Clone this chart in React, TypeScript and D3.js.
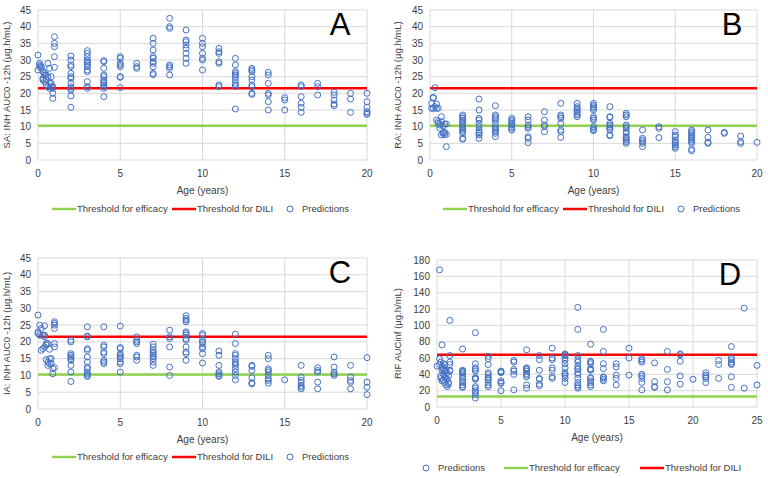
import React from 'react';
import * as d3 from 'd3';

// Age (years) -> predicted exposures, one array per panel
const saGroups: [number, number[]][] = [
  [0.0, [31.5, 27]], [0.1, [29, 28.5, 28]], [0.2, [28, 27.5]], [0.3, [24.5, 24, 26.5]],
  [0.4, [26, 25.5, 23.5]], [0.5, [25.5, 22.5, 24]], [0.6, [25, 22, 29]], [0.7, [21.5, 23, 27.5]],
  [0.8, [25, 23, 22]], [0.9, [22, 20, 18.5, 21.5]], [1, [37, 35, 34, 31, 27.8]],
  [2, [31.2, 30, 28.5, 28, 26, 25, 24.5, 23, 22, 21.5, 21, 19.2, 15.8]],
  [3, [32.8, 32, 31, 30, 29.5, 29, 28.5, 28, 27, 26.5, 23.5, 22, 21.5]],
  [4, [29.8, 29.5, 27.5, 25.5, 25, 24, 23.5, 23, 22.5, 22, 21.5, 19]],
  [5, [31, 30.5, 29, 28.5, 28, 25, 24.8, 21.7]],
  [6, [29, 28, 27.5]],
  [7, [36.5, 35, 33, 31, 30.5, 29.5, 29, 28, 26, 25.6]],
  [8, [42.5, 40, 39.5, 28.5, 28, 27.5, 25.5]],
  [9, [39, 36, 35.5, 34.5, 33.5, 32, 30.5, 29]],
  [10, [36.5, 35, 34, 32, 30.5, 30, 27]],
  [11, [33.5, 32.5, 32, 29.5, 29, 22.5, 22]],
  [12, [30.5, 28.5, 26.5, 26, 25.5, 25, 24, 23, 22.5, 22, 15.3]],
  [13, [27.5, 27, 26.5, 25, 24, 22.5, 22, 20, 19.7]],
  [14, [26.3, 25.5, 23, 20, 19.5, 17.5, 15]],
  [15, [18.7, 18, 15]],
  [16, [22.5, 22, 19, 17, 15.8, 14.3]],
  [17, [23, 22, 19.5]],
  [18, [20.3, 19.5, 18, 16.8, 16.3]],
  [19, [20, 18.3, 14.3]],
  [20, [20, 17.5, 15.8, 14.5, 14, 13.7]],
];

const raGroups: [number, number[]][] = [
  [0.1, [17, 15.5]], [0.2, [18.8, 18.6, 15.5]], [0.3, [21.7, 16]], [0.4, [15.5, 16.8, 12]],
  [0.5, [15.5, 11.5, 11]], [0.6, [10.5, 9.5]], [0.7, [13, 11.5, 7.5]], [0.8, [8.2, 10.2, 8]],
  [0.9, [10.8, 8.3, 7.6]], [1, [10.8, 7.7, 4]],
  [2, [13.5, 13, 12.5, 12, 11.5, 11, 10.5, 10, 9.5, 9, 8.5, 8, 6.5, 6.2]],
  [3, [18.3, 15, 12.5, 12, 11, 10, 9, 8.5, 8, 7.5, 6.5]],
  [4, [16.3, 13.5, 13, 12.5, 12, 11, 10, 9.5, 9, 8.5, 8, 7]],
  [5, [12.5, 12, 11.5, 11, 10.5, 10, 9.5, 9]],
  [6, [13, 12, 10.5, 10, 9.5, 7, 6.5, 5.2]],
  [7, [14.5, 12, 10.5, 10, 8.5]],
  [8, [17, 13.5, 13, 12.5, 11, 9, 8.5, 6.8]],
  [9, [17, 16, 15.5, 15, 14.5, 14, 13.5, 13]],
  [10, [17, 16.5, 16, 15.5, 15, 13, 12.5, 12, 10, 9.5, 9, 8.8]],
  [11, [16, 13, 12.8, 11, 10.5, 10, 9.5, 9, 7.5, 7.3]],
  [12, [14, 13.5, 13, 10.5, 10, 9.5, 8.5, 8, 7, 6.5, 6, 5.5, 5]],
  [13, [9, 6.5, 6, 5.5, 5, 4]],
  [14, [10, 9.5, 6.7]],
  [15, [8.5, 7.5, 7, 6, 5.5, 5, 4.5, 4, 3.5]],
  [16, [9, 8.5, 8, 7.5, 7, 6.5, 6, 5.5, 5, 3.2, 2.8]],
  [17, [9, 6.8, 5.3, 5]],
  [18, [8.3, 8]],
  [19, [7.2, 5.5, 5]],
  [20, [5.3]],
];

const iaGroups: [number, number[]][] = [
  [0.0, [28, 23, 22.5]], [0.1, [25, 22]], [0.2, [24, 17.5]], [0.3, [22, 18]],
  [0.4, [24.8, 22, 21.5, 18.5]], [0.5, [19.5, 14.7, 19]], [0.6, [14, 13, 19.5]],
  [0.7, [17.8, 15, 13.5]], [0.8, [15, 13.5]], [0.9, [10.5, 12]],
  [1, [26, 25.5, 25, 24, 19.5, 18.5, 12.3]],
  [2, [20.5, 20, 16.5, 16, 15.5, 15, 14.5, 13, 11, 8.2]],
  [3, [24.5, 21.7, 21.5, 18, 17.5, 15.5, 14, 12.5, 12, 11, 10.5, 10, 9.7]],
  [4, [24.5, 19, 18.5, 17, 16.5, 14.5, 14, 13.5]],
  [5, [24.7, 18.3, 18, 16.5, 16, 15.5, 15, 14, 13.5, 11]],
  [6, [21.5, 20.5, 20, 19.5, 16, 15.5, 14.5]],
  [7, [19.3, 18.5, 17.5, 17, 16.5, 16, 15.5, 15, 14, 13]],
  [8, [23.5, 21.5, 21, 18.5, 12.5, 10]],
  [9, [27.8, 27, 26.5, 26, 23, 22.5, 22, 21, 20.5, 18.5, 17, 16.5, 14.5]],
  [10, [22.5, 22, 20.5, 20, 19.5, 18.5, 18, 16.5, 13.7]],
  [11, [17.3, 16, 13, 11, 10.5, 10, 9.7]],
  [12, [22.3, 19.5, 16.5, 16, 15, 14, 13.5, 13, 12, 11, 10, 8.7]],
  [13, [13, 12.7, 11.5, 9.3, 7.8, 7.5]],
  [14, [16, 15, 12, 11.5, 11, 10, 9, 8.5, 7.7]],
  [15, [8.7]],
  [16, [13, 9.5, 8.5, 7.8, 7, 6.5, 6]],
  [17, [12.3, 11.5, 11, 8, 6]],
  [18, [15.5, 12.5, 11, 10.5, 10]],
  [19, [13, 9.5, 8.5, 8, 6]],
  [20, [15.3, 8, 6.5, 4.3]],
];

const rifGroups: [number, number[]][] = [
  [0.0, [50]], [0.2, [168, 59, 52]], [0.3, [38, 35, 55]], [0.4, [76, 50, 48, 45, 32]],
  [0.5, [53, 46, 40, 33]], [0.6, [52, 44, 37, 30]], [0.7, [45, 35, 27]], [0.8, [42, 34, 25]],
  [0.9, [38, 30, 28]], [1, [106, 63, 55, 52, 45, 44]],
  [2, [71, 45, 44, 43, 42, 40, 37, 35, 32, 30, 27, 25, 24]],
  [3, [91, 53, 48, 46, 44, 36, 35, 34, 25, 23, 20, 18, 15, 11]],
  [4, [62, 59, 52, 42, 40, 37, 35, 33, 30, 27, 25]],
  [5, [44, 43, 42, 32, 30, 29, 20]],
  [6, [57, 55, 46, 44, 40, 21]],
  [7, [70, 48, 47, 46, 44, 41, 39, 37, 27, 23]],
  [8, [63, 58, 45, 35, 34, 28, 26]],
  [9, [72, 60, 58, 48, 45, 37, 35]],
  [10, [65, 64, 63, 60, 57, 53, 48, 42, 40, 38, 35, 30]],
  [11, [122, 95, 63, 58, 55, 50, 47, 46, 42, 40, 35, 30, 27, 25, 23]],
  [12, [77, 56, 55, 53, 47, 46, 45, 36, 35, 32, 30, 27, 25]],
  [13, [95, 68, 53, 47, 37, 36, 34, 32]],
  [14, [53, 49, 39, 35, 27]],
  [15, [72, 60, 39]],
  [16, [59, 57, 55, 40, 38, 35, 30, 21]],
  [17, [54, 31, 25, 24]],
  [18, [68, 46, 31, 21]],
  [19, [65, 64, 56, 38, 28]],
  [20, [34]],
  [21, [42, 39, 37, 35, 30]],
  [22, [57, 52, 35]],
  [23, [74, 60, 58, 55, 53, 52, 37, 24]],
  [24, [121, 23]],
  [25, [51, 27]],
];

const inhThresholds = [10.3, 21.5]; // efficacy, DILI
const rifThresholds = [13, 64];

const inhAgeTicks = [0, 5, 10, 15, 20];
const rifAgeTicks = [0, 5, 10, 15, 20, 25];
const inhYTicks = [0, 5, 10, 15, 20, 25, 30, 35, 40, 45];
const rifYTicks = [0, 20, 40, 60, 80, 100, 120, 140, 160, 180];

const FONT = "'Liberation Sans', Arial, sans-serif";
const BLUE = '#4472C4';
const GREEN = '#92D050';
const RED = '#FF0000';
const GRID = '#D9D9D9';
const TXT = '#404040';

type LegendItem = { kind: 'line' | 'circle'; color: string; label: string; x: number };

interface PanelProps {
  groups: [number, number[]][];
  box: { left: number; right: number; top: number; bottom: number };
  xTicks: number[];
  yTicks: number[];
  thresholds: number[];
  yTitle: string;
  titleX: number;
  letter: string;
  letterX: number;
  legend: LegendItem[];
  legendY: number;
}

const Panel = (p: PanelProps) => {
  const { box } = p;
  const x = d3.scaleLinear().domain(d3.extent(p.xTicks) as [number, number]).range([box.left, box.right]);
  const y = d3.scaleLinear().domain(d3.extent(p.yTicks) as [number, number]).range([box.bottom, box.top]);
  const pts = p.groups.flatMap(([age, vals]) => vals.map(v => [age, v] as [number, number]));
  const [eff, dili] = p.thresholds;
  const midY = (box.top + box.bottom) / 2;
  return (
    <g fontFamily={FONT}>
      {p.yTicks.map(t => (
        <line key={'h' + t} x1={box.left} x2={box.right} y1={y(t)} y2={y(t)} stroke={GRID} strokeWidth={1} />
      ))}
      {p.xTicks.map(t => (
        <line key={'v' + t} x1={x(t)} x2={x(t)} y1={box.top} y2={box.bottom} stroke={GRID} strokeWidth={1} />
      ))}
      <line x1={box.left} x2={box.right} y1={y(eff)} y2={y(eff)} stroke={GREEN} strokeWidth={2.5} />
      <line x1={box.left} x2={box.right} y1={y(dili)} y2={y(dili)} stroke={RED} strokeWidth={2.5} />
      {pts.map((d, i) => (
        <circle key={i} cx={x(d[0])} cy={y(d[1])} r={3} fill="none" stroke={BLUE} strokeWidth={1} />
      ))}
      {p.yTicks.map(t => (
        <text key={'yl' + t} x={box.left - 7} y={y(t)} dy="0.35em" textAnchor="end" fontSize={10} fill={TXT}>{t}</text>
      ))}
      {p.xTicks.map(t => (
        <text key={'xl' + t} x={x(t)} y={box.bottom + 13} dy="0.35em" textAnchor="middle" fontSize={10} fill={TXT}>{t}</text>
      ))}
      <text x={(box.left + box.right) / 2} y={box.bottom + 30} dy="0.35em" textAnchor="middle" fontSize={10} fill={TXT}>Age (years)</text>
      <text transform={`translate(${p.titleX},${midY}) rotate(-90)`} textAnchor="middle" dy="0.35em" fontSize={9.5} fill={TXT}>{p.yTitle}</text>
      <text x={p.letterX} y={box.top + 25} textAnchor="middle" fontSize={31} fill="#000">{p.letter}</text>
      {p.legend.map(item => (
        <g key={item.label}>
          {item.kind === 'line'
            ? <line x1={item.x} x2={item.x + 24} y1={p.legendY} y2={p.legendY} stroke={item.color} strokeWidth={2.5} />
            : <circle cx={item.x + 3} cy={p.legendY} r={3} fill="none" stroke={item.color} strokeWidth={1} />}
          <text x={item.kind === 'line' ? item.x + 25 : item.x + 15} y={p.legendY} dy="0.35em" fontSize={9.5} fill={TXT}>{item.label}</text>
        </g>
      ))}
    </g>
  );
};

const inhLegend = (x0: number): LegendItem[] => [
  { kind: 'line', color: GREEN, label: 'Threshold for efficacy', x: x0 },
  { kind: 'line', color: RED, label: 'Threshold for DILI', x: x0 + 120 },
  { kind: 'circle', color: BLUE, label: 'Predictions', x: x0 + 235 },
];

export default function App() {
  return (
    <svg width={768} height={478} style={{ position: 'absolute', left: 0, top: 0, background: '#fff' }}>
      <Panel groups={saGroups} box={{ left: 38, right: 367, top: 10, bottom: 160 }} xTicks={inhAgeTicks} yTicks={inhYTicks}
        thresholds={inhThresholds} yTitle="SA: INH AUC0 -12h (µg.h/mL)" titleX={7} letter="A" letterX={340}
        legend={inhLegend(52)} legendY={209} />
      <Panel groups={raGroups} box={{ left: 430, right: 757, top: 10, bottom: 160 }} xTicks={inhAgeTicks} yTicks={inhYTicks}
        thresholds={inhThresholds} yTitle="RA: INH AUC0 -12h (µg.h/mL)" titleX={398} letter="B" letterX={732}
        legend={inhLegend(443)} legendY={209} />
      <Panel groups={iaGroups} box={{ left: 38, right: 367, top: 258, bottom: 409 }} xTicks={inhAgeTicks} yTicks={inhYTicks}
        thresholds={inhThresholds} yTitle="IA: INH AUC0 -12h (µg.h/mL)" titleX={7} letter="C" letterX={340}
        legend={inhLegend(52)} legendY={457} />
      <Panel groups={rifGroups} box={{ left: 437, right: 757, top: 260, bottom: 407 }} xTicks={rifAgeTicks} yTicks={rifYTicks}
        thresholds={rifThresholds} yTitle="RIF AUCinf (µg.h/mL)" titleX={398} letter="D" letterX={730}
        legend={[
          { kind: 'circle', color: BLUE, label: 'Predictions', x: 423 },
          { kind: 'line', color: GREEN, label: 'Threshold for efficacy', x: 504 },
          { kind: 'line', color: RED, label: 'Threshold for DILI', x: 640 },
        ]} legendY={468} />
    </svg>
  );
}
